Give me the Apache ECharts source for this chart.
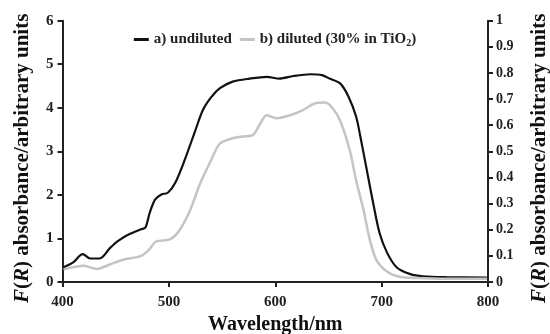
<!DOCTYPE html>
<html><head><meta charset="utf-8">
<script src="https://cdn.jsdelivr.net/npm/echarts@6/dist/echarts.min.js"></script>
<style>html,body{margin:0;padding:0;background:#fff}#c{width:550px;height:334px}</style>
</head><body><div id="c"></div>
<script>
// Wavelength (nm) and F(R) values
const wlUndiluted = [401,410,419,426,435,445,452,463,474,478,482,487,493,499,506,515,525,532,540,548,560,576,592,604,617,633,644,651,661,669,676,680,686,692,698,705,714,727,739,761,799];
const undiluted   = [0.34,0.45,0.64,0.54,0.54,0.79,0.94,1.10,1.21,1.25,1.59,1.89,2.01,2.05,2.28,2.81,3.49,3.95,4.25,4.45,4.60,4.67,4.71,4.67,4.73,4.77,4.75,4.67,4.56,4.25,3.80,3.34,2.58,1.82,1.13,0.68,0.34,0.18,0.13,0.11,0.10];
const wlDiluted = [401,420,432,445,457,474,481,488,501,509,520,529,539,548,560,570,579,585,592,601,614,626,637,647,654,661,670,676,683,689,695,705,717,733,761,799];
// diluted curve is read against the right axis (0 - 1)
const diluted   = [0.048,0.062,0.050,0.068,0.085,0.100,0.122,0.155,0.163,0.192,0.275,0.373,0.460,0.530,0.550,0.557,0.562,0.600,0.638,0.627,0.638,0.658,0.683,0.687,0.665,0.617,0.505,0.390,0.275,0.160,0.085,0.040,0.020,0.015,0.012,0.012];
const xTicks = [400,500,600,700,800];
const seriesNames = ['a) undiluted','b) diluted (30% in TiO2)'];

const font = 'Liberation Serif, Times New Roman, serif';
const nameRich = {i:{fontFamily:font,fontWeight:'bold',fontStyle:'italic',fontSize:21,color:'#111'}};
const chart = echarts.init(document.getElementById('c'));
chart.setOption({
  animation:false,
  grid:{left:62.5,right:62,top:20.7,bottom:52,containLabel:false,outerBoundsMode:'none'},
  legend:{
    top:27, left:'center', itemWidth:15, itemHeight:3, itemGap:8,
    icon:'rect',
    data:seriesNames,
    formatter:function(n){ return n==='b) diluted (30% in TiO2)' ? 'b) diluted (30% in TiO{s|2})' : n; },
    textStyle:{fontFamily:font,fontWeight:'bold',fontSize:15,color:'#222',
      rich:{s:{fontFamily:font,fontWeight:'bold',fontSize:10,verticalAlign:'bottom',padding:[7,0,0,0],color:'#222'}}}
  },
  xAxis:{
    type:'value', min:xTicks[0], max:xTicks[xTicks.length-1], interval:100,
    name:'Wavelength/nm', nameLocation:'middle', nameGap:32,
    nameTextStyle:{fontFamily:font,fontWeight:'bold',fontSize:20,color:'#111'},
    axisLine:{lineStyle:{color:'#222',width:2}},
    axisTick:{show:true,length:5,lineStyle:{color:'#222',width:2}},
    axisLabel:{fontFamily:font,fontWeight:'bold',fontSize:15,color:'#222',margin:13},
    splitLine:{show:false}
  },
  yAxis:[{
    type:'value', min:0, max:6, interval:1, position:'left',
    name:'{i|F}({i|R}) absorbance/arbitrary units', nameLocation:'middle', nameGap:29, nameRotate:90,
    nameTextStyle:{fontFamily:font,fontWeight:'bold',fontSize:21,color:'#111',rich:nameRich,padding:[0,14,0,0]},
    axisLine:{show:true,lineStyle:{color:'#222',width:2}},
    axisTick:{show:true,length:5,lineStyle:{color:'#222',width:2}},
    axisLabel:{fontFamily:font,fontWeight:'bold',fontSize:15,color:'#222',margin:9},
    splitLine:{show:false}
  },{
    type:'value', min:0, max:1, interval:0.1, position:'right',
    name:'{i|F}({i|R}) absorbance/arbitrary units', nameLocation:'middle', nameGap:41, nameRotate:90,
    nameTextStyle:{fontFamily:font,fontWeight:'bold',fontSize:21,color:'#111',rich:nameRich,padding:[0,14,0,0]},
    axisLine:{show:true,lineStyle:{color:'#222',width:2}},
    axisTick:{show:true,length:5,lineStyle:{color:'#222',width:2}},
    axisLabel:{fontFamily:font,fontWeight:'bold',fontSize:14,color:'#222',margin:8,
      formatter:function(v){return String(Math.round(v*10)/10);}},
    splitLine:{show:false}
  }],
  series:[{
    name:seriesNames[0], type:'line', yAxisIndex:0, symbol:'none', smooth:0.3,
    lineStyle:{color:'#111',width:2.2}, itemStyle:{color:'#111'},
    data: wlUndiluted.map((w,i)=>[w,undiluted[i]])
  },{
    name:seriesNames[1], type:'line', yAxisIndex:1, symbol:'none', smooth:0.3,
    lineStyle:{color:'#c4c4c4',width:2.5}, itemStyle:{color:'#c4c4c4'},
    data: wlDiluted.map((w,i)=>[w,diluted[i]])
  }]
});
</script></body></html>
